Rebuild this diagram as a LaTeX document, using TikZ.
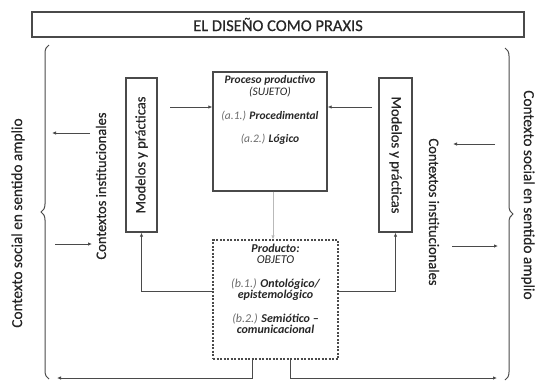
\documentclass[tikz,border=0pt]{standalone}
\usepackage{fontspec}
\setmainfont{Carlito}
\newfontfamily\medfont{Carlito}[FakeBold=0.6]
\usetikzlibrary{positioning,
        arrows.meta,
        decorations.pathreplacing}
\definecolor{linegray}{HTML}{4A4A4A}
\definecolor{textgray}{HTML}{262626}
\definecolor{softgray}{HTML}{6A6A6A}

\begin{document}
\begin{tikzpicture}[x=1pt,y=-1pt,
        box/.style={draw=linegray,line width=1.4pt,inner sep=0pt},
        dbox/.style={draw=linegray,line width=1.2pt,dash pattern=on 2pt off 1.5pt,inner sep=0pt},
        arr/.style={draw=linegray,line width=1pt,-{Latex[length=4pt,width=3.5pt]}},
        brace/.style={draw=linegray,line width=1pt,decorate,decoration={brace,amplitude=8pt}},
        side/.style={text=textgray,font=\medfont\fontsize{15.3}{17}\selectfont},
        inst/.style={text=textgray,font=\medfont\fontsize{14.5}{16}\selectfont},
        inner/.style={text=textgray,align=center,font=\fontsize{11.5}{12}\selectfont\itshape}]
            \useasboundingbox (0,0) rectangle (537,381);

            \node [box,minimum width=492pt,minimum height=25pt,text=textgray,font=\medfont\fontsize{16.5}{18}\selectfont] (title) at (278,24.5) {EL DISEÑO COMO PRAXIS};

            \node [box,minimum width=114pt,minimum height=119pt] (proc) at (270,131.5) {};
            \node [inner,below=1pt of proc.north] (proctext) {\textbf{Proceso productivo}\\ (SUJETO)\\[12pt] {\color{softgray}(a.1.)} \textbf{Procedimental}\\[11pt] {\color{softgray}(a.2.)} \textbf{Lógico}};
            \node [dbox,minimum width=125pt,minimum height=119pt] (prod) at (275.5,299.5) {};
            \node [inner,below=1pt of prod.north,font=\fontsize{12}{11}\selectfont\itshape] (prodtext) {\textbf{Producto:}\\ OBJETO\\[13pt] {\color{softgray}(b.1.)} \textbf{Ontológico/}\\ \textbf{epistemológico}\\[13pt] {\color{softgray}(b.2.)} \textbf{Semiótico –}\\ \textbf{comunicacional}};

            \node [box,minimum width=31pt,minimum height=154pt] (modL) at (141.5,155) {};
            \node [inst,rotate=90] (modLtext) at (modL.center) {Modelos y prácticas};
            \node [box,minimum width=33pt,minimum height=154pt] (modR) at (395.5,155) {};
            \node [inst,rotate=-90] (modRtext) at (modR.center) {Modelos y prácticas};

            \node [inst,rotate=90] (instL) at (101,186) {Contextos institucionales};
            \node [inst,rotate=-90] (instR) at (434,212) {Contextos institucionales};
            \node [side,rotate=90] (socL) at (18,223) {Contexto social en sentido amplio};
            \node [side,rotate=-90] (socR) at (528,195) {Contexto social en sentido amplio};

            \draw [brace] (49,379) -- (49,45);
            \draw [brace] (505,48) -- (505,380);

            % arrows between the contexts
            \coordinate (bL1) at (52,133);
            \coordinate (iL1) at (90,133);
            \coordinate (bL2) at (55,244);
            \coordinate (iL2) at (92,244);
            \coordinate (bR1) at (495,144);
            \coordinate (iR1) at (453,144);
            \coordinate (bR2) at (498,246);
            \coordinate (iR2) at (452,246);
            \draw [arr] (iL1) -- (bL1);
            \draw [arr] (bL2) -- (iL2);
            \draw [arr] (bR1) -- (iR1);
            \draw [arr] (iR2) -- (bR2);

            % models into the process
            \coordinate (mL) at (170,107);
            \coordinate (mR) at (372,107);
            \draw [arr] (mL) -- (proc.west |- mL);
            \draw [arr] (mR) -- (proc.east |- mR);

            \coordinate (vx) at (273,0);
            \draw [draw=gray!55,line width=1pt,-{Latex[length=4pt,width=3.5pt]}] (proc.south -| vx) -- (prod.north -| vx);

            \draw [arr] ([yshift=8.5pt]prod.west) -| (modL.south);
            \draw [arr] ([yshift=8.5pt]prod.east) -| (modR.south);

            \coordinate (bL3) at (57,378);
            \coordinate (bR3) at (497,378);
            \draw [arr] ([xshift=-23.5pt]prod.south) |- (bL3);
            \draw [arr] ([xshift=14.5pt]prod.south) |- (bR3);
        \end{tikzpicture}
\end{document}
